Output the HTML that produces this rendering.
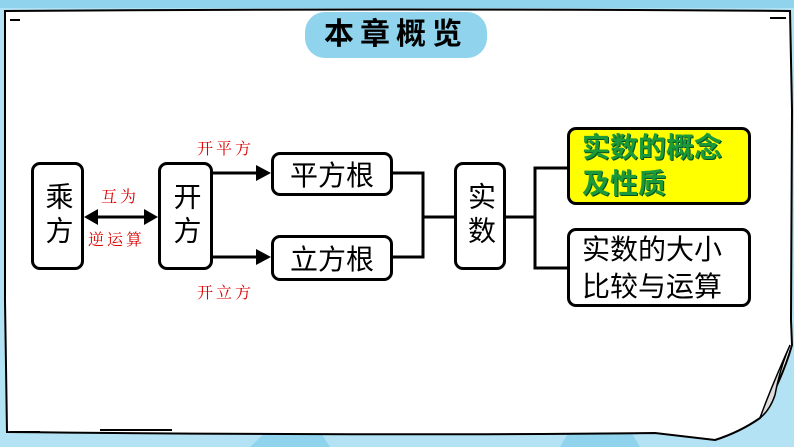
<!DOCTYPE html>
<html><head><meta charset="utf-8"><style>
html,body{margin:0;padding:0}
body{width:794px;height:447px;overflow:hidden;background:#a9def2;position:relative;font-family:"Liberation Sans","Noto Sans CJK SC",sans-serif}
.b{position:absolute;border:3px solid #000;border-radius:9px;background:#fff;box-sizing:border-box;display:flex;align-items:center;justify-content:center;font-size:28px;color:#000}
.v{writing-mode:vertical-rl;letter-spacing:6px}
.r{position:absolute;color:#d00;font-family:"Noto Serif CJK SC","Liberation Serif",serif;font-size:16px;letter-spacing:3px}
</style></head><body>
<svg width="794" height="447" style="position:absolute;left:0;top:0">
<path d="M0 0H794V447H0Z" fill="#b3e2f4"/>
<path d="M0 0H794V8H0Z" fill="#8fd3ec"/>
<path d="M560 447 L600 380 L640 447Z M250 447 L300 400 L330 447Z" fill="#8fd3ec"/>
<path d="M5 11 Q400 8 790 11 L792 110 L791 320 L792 345 Q782 380 760 418 Q740 432 715 440 Q690 437 655 433 Q400 436 7 432 L5 300 Z" fill="#fff" stroke="#000" stroke-width="2"/>
<path d="M760 418 Q770 390 790 345 Q780 368 775 395 Q770 410 760 418Z" fill="#ddd" stroke="#000" stroke-width="1.5"/>
<path d="M10 20 H20 M770 18 H786 M10 432 H40 M100 430 H172" stroke="#000" stroke-width="2"/>
</svg>
<div style="position:absolute;left:305px;top:12px;width:182px;height:46px;border-radius:20px;background:#8fd3ec;font-size:30px;text-align:center;line-height:46px;letter-spacing:6px;font-weight:bold">本章概览</div>

<div class="b" style="left:31px;top:162px;width:53px;height:108px"><span class="v">乘方</span></div>
<div class="b" style="left:158px;top:162px;width:55px;height:108px"><span class="v">开方</span></div>
<div class="b" style="left:271px;top:152px;width:122px;height:44px">平方根</div>
<div class="b" style="left:271px;top:235px;width:122px;height:46px">立方根</div>
<div class="b" style="left:454px;top:162px;width:52px;height:108px"><span class="v">实数</span></div>
<div class="b" style="left:567px;top:127px;width:184px;height:78px;background:#ffff00;justify-content:flex-start;padding-left:12px;line-height:36px;font-weight:bold;color:#1a9a3a;text-shadow:1px 1px 0 #0a5020"><div>实数的概念<br>及性质</div></div>
<div class="b" style="left:567px;top:228px;width:184px;height:79px;justify-content:flex-start;padding-left:12px;line-height:37px"><div>实数的大小<br>比较与运算</div></div>

<svg width="794" height="447" style="position:absolute;left:0;top:0">
<g stroke="#000" stroke-width="3" fill="none">
<line x1="96" y1="217" x2="146" y2="217"/>
<line x1="213" y1="173" x2="258" y2="173"/>
<line x1="213" y1="257" x2="258" y2="257"/>
<path d="M393 173 H423 V257 H393 M423 217 H454 M506 217 H535 M567 168 H535 V268 H567"/>
</g>
<g fill="#000">
<path d="M84 217 L98 209 L98 225Z"/><path d="M158 217 L144 209 L144 225Z"/>
<path d="M271 173 L256 165 L256 181Z"/><path d="M271 257 L256 249 L256 265Z"/>
</g>
</svg>
<div class="r" style="left:197px;top:136px">开平方</div>
<div class="r" style="left:197px;top:280px">开立方</div>
<div class="r" style="left:101px;top:184px">互为</div>
<div class="r" style="left:88px;top:227px">逆运算</div>
</body></html>
